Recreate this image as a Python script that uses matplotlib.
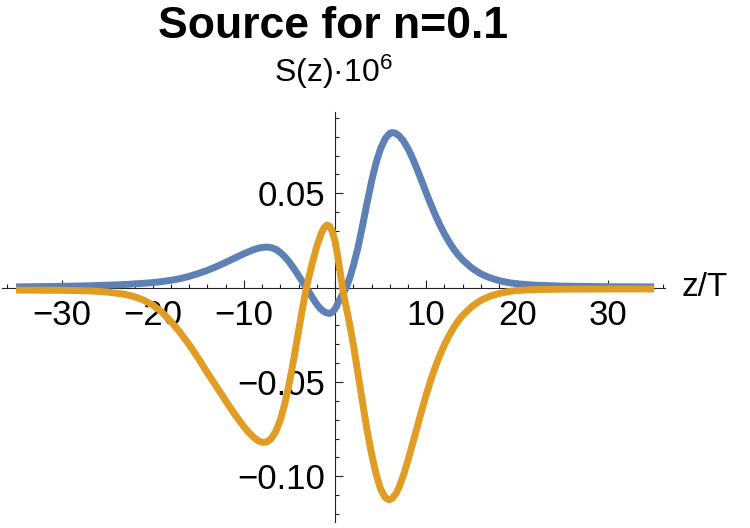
# Source term S(z) for n=0.1, two components, Mathematica-style axes through the origin.

import matplotlib
matplotlib.use("Agg")
import matplotlib.pyplot as plt
from matplotlib.ticker import MultipleLocator, FuncFormatter

plt.rcParams["font.family"] = ["Liberation Sans", "DejaVu Sans"]
plt.rcParams["mathtext.fontset"] = "custom"
plt.rcParams["mathtext.rm"] = "Liberation Sans"
plt.rcParams["mathtext.default"] = "regular"

# values
z_blue = [-35, -30, -27, -25, -23, -21, -20, -19, -18, -17, -16, -15, -14, -13, -12, -11,
          -10, -9, -8.5, -8, -7.5, -7, -6.5, -6, -5.5, -5, -4.5, -4, -3.5, -3.2, -3, -2.5,
          -2, -1.5, -1, -0.6, -0.3, 0, 0.5, 1, 1.3, 1.6, 2, 2.5, 3, 3.5, 4, 4.5, 5, 5.5,
          6, 6.3, 6.6, 7, 7.5, 8, 8.5, 9, 9.5, 10, 10.5, 11, 11.5, 12, 12.5, 13, 13.5,
          14, 15, 16, 17, 18, 19, 20, 22, 25, 30, 35]
s_blue = [0.0004, 0.0007, 0.0010, 0.0013, 0.0017, 0.0023, 0.0027, 0.0032, 0.0039, 0.0048,
          0.0060, 0.0075, 0.0092, 0.0112, 0.0134, 0.0157, 0.0180, 0.0200, 0.0208, 0.0213,
          0.0215, 0.0212, 0.0203, 0.0186, 0.0163, 0.0134, 0.0100, 0.0063, 0.0025, 0.0003,
          -0.0012, -0.0052, -0.0089, -0.0117, -0.0133, -0.0137, -0.0130, -0.0113, -0.0064,
          -0.0020, 0.0010, 0.0050, 0.0115, 0.0210, 0.0325, 0.0447, 0.0563, 0.0662, 0.0738,
          0.0790, 0.0818, 0.0822, 0.0819, 0.0806, 0.0778, 0.0737, 0.0686, 0.0628, 0.0566,
          0.0503, 0.0442, 0.0385, 0.0332, 0.0285, 0.0243, 0.0206, 0.0174, 0.0147, 0.0104,
          0.0073, 0.0052, 0.0037, 0.0027, 0.0020, 0.0013, 0.0008, 0.0005, 0.0004]

z_orange = [-35, -30, -27, -25, -23, -22, -21, -20, -19, -18, -17, -16, -15, -14, -13, -12,
            -11, -10, -9.5, -9, -8.5, -8, -7.5, -7, -6.5, -6, -5.5, -5, -4.5, -4, -3.5,
            -3.1, -2.5, -2, -1.5, -1.2, -0.9, -0.6, -0.3, 0, 0.3, 0.5, 0.75, 1, 1.5, 2,
            2.5, 3, 3.5, 4, 4.5, 5, 5.5, 5.9, 6.3, 6.7, 7, 7.5, 8, 8.5, 9, 9.5, 10, 10.5,
            11, 11.5, 12, 12.5, 13, 13.5, 14, 15, 16, 17, 18, 19, 20, 22, 25, 30, 35]
s_orange = [-0.0013, -0.0014, -0.0017, -0.0023, -0.0036, -0.0048, -0.0066, -0.0092, -0.0130,
            -0.0180, -0.0238, -0.0303, -0.0375, -0.0452, -0.0525, -0.0600, -0.0672, -0.0737,
            -0.0766, -0.0790, -0.0810, -0.0820, -0.0818, -0.0800, -0.0762, -0.0700, -0.0612,
            -0.0500, -0.0370, -0.0228, -0.0090, 0.0010, 0.0130, 0.0220, 0.0290, 0.0318,
            0.0332, 0.0325, 0.0298, 0.0245, 0.0165, 0.0100, 0.0020, -0.0050, -0.0170,
            -0.0300, -0.0452, -0.0605, -0.0752, -0.0880, -0.0988, -0.1068, -0.1112, -0.1124,
            -0.1116, -0.1090, -0.1060, -0.0995, -0.0915, -0.0828, -0.0740, -0.0652, -0.0568,
            -0.0490, -0.0420, -0.0358, -0.0303, -0.0255, -0.0213, -0.0177, -0.0147, -0.0100,
            -0.0067, -0.0045, -0.0031, -0.0021, -0.0015, -0.0010, -0.0008, -0.0007, -0.0007]

BLUE = "#5E81B5"
ORANGE = "#E19C24"
AXIS_COL = "#222222"


def fmt_tick(v, decimals):
    if abs(v) < 1e-9:
        return ""
    return f"{v:.{decimals}f}".replace("-", "\u2212")


def main():
    fig = plt.figure(figsize=(7.5, 5.28), dpi=100)
    ax = fig.add_axes([1.5 / 750, 6 / 528, 663.5 / 750, 410 / 528])

    ax.plot(z_blue, s_blue, color=BLUE, lw=5.0, solid_capstyle="butt",
            solid_joinstyle="round", zorder=3)
    ax.plot(z_orange, s_orange, color=ORANGE, lw=5.0, solid_capstyle="butt",
            solid_joinstyle="round", zorder=3)

    ax.set_xlim(-36.6, 36.2)
    ax.set_ylim(-0.1242, 0.0931)

    # axes through the origin
    for side in ("top", "right"):
        ax.spines[side].set_visible(False)
    ax.spines["left"].set_position(("data", 0))
    ax.spines["bottom"].set_position(("data", 0))
    for side in ("left", "bottom"):
        ax.spines[side].set_color(AXIS_COL)
        ax.spines[side].set_linewidth(0.8)
        ax.spines[side].set_zorder(2)

    ax.xaxis.set_major_locator(MultipleLocator(10))
    ax.xaxis.set_minor_locator(MultipleLocator(2))
    ax.yaxis.set_major_locator(MultipleLocator(0.05))
    ax.yaxis.set_minor_locator(MultipleLocator(0.01))
    ax.xaxis.set_major_formatter(FuncFormatter(lambda v, p: fmt_tick(v, 0)))
    ax.yaxis.set_major_formatter(FuncFormatter(lambda v, p: fmt_tick(v, 2)))

    ax.tick_params(axis="both", which="major", direction="in", length=5.5, width=0.8,
                   color=AXIS_COL, labelsize=25, labelcolor="black")
    ax.tick_params(axis="both", which="minor", direction="in", length=3, width=0.8,
                   color=AXIS_COL)
    ax.tick_params(axis="x", which="major", pad=8)
    ax.tick_params(axis="y", which="major", pad=7)

    ax.text(1.025, 0.0, "z/T", transform=ax.get_yaxis_transform(), fontsize=24,
            ha="left", va="center")

    fig.text(333 / 750, 1 - 27 / 528, "Source for n=0.1", fontsize=32,
             fontweight="bold", ha="center", va="center")
    fig.text(333 / 750, 1 - 72 / 528, "S(z)\u00b710$^6$", fontsize=23,
             ha="center", va="center")

    fig.savefig("out.png", dpi=100)


if __name__ == "__main__":
    main()
